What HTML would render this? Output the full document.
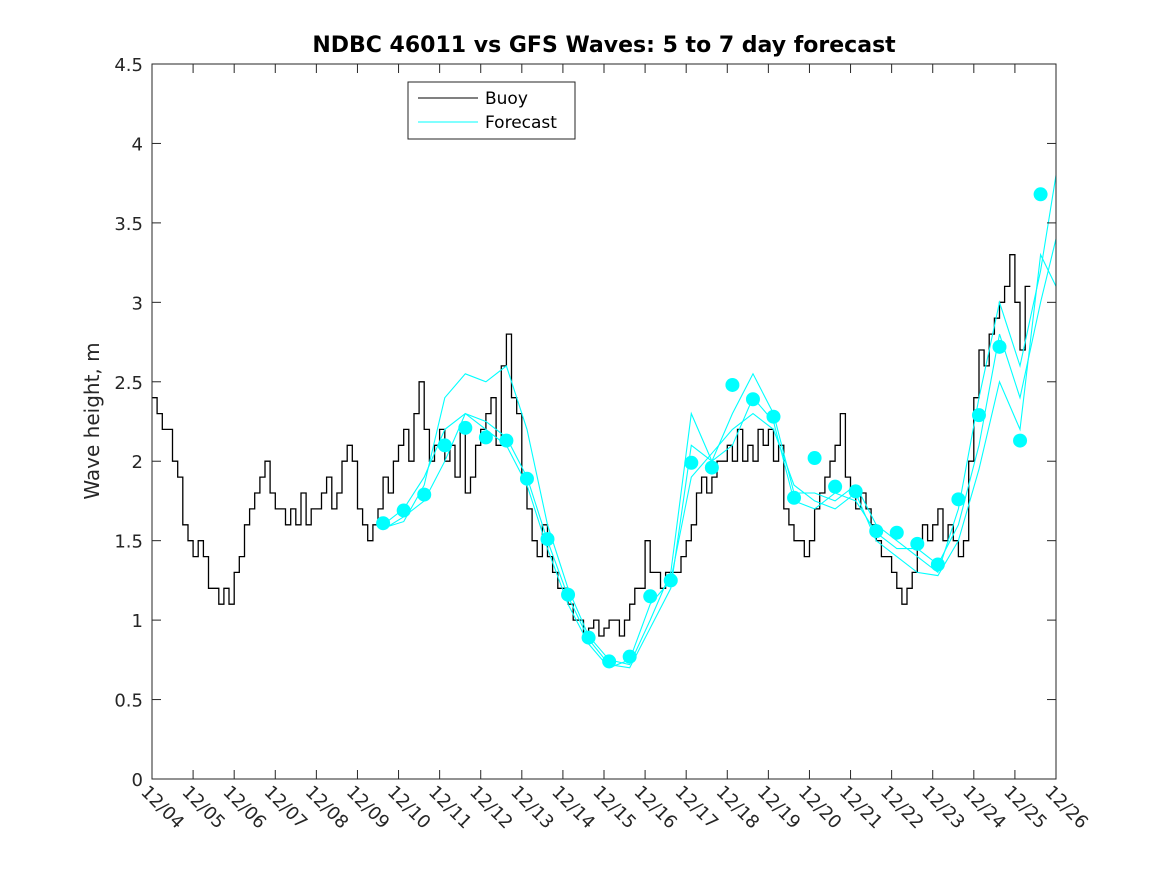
<!DOCTYPE html>
<html><head><meta charset="utf-8"><style>
html,body{margin:0;padding:0;background:#fff;}
svg{display:block;font-family:"DejaVu Sans","Liberation Sans",sans-serif;}
</style></head><body>
<svg id="chart" width="1167" height="875" viewBox="0 0 1167 875" xmlns="http://www.w3.org/2000/svg">
<rect x="0" y="0" width="1167" height="875" fill="#fff"/>
<text x="604" y="52" text-anchor="middle" font-size="22" font-weight="bold">NDBC 46011 vs GFS Waves: 5 to 7 day forecast</text>
<text transform="translate(99,421) rotate(-90)" text-anchor="middle" font-size="20" fill="#262626">Wave height, m</text>
<g id="plot"></g>
<rect x="152" y="64" width="904" height="715" fill="none" stroke="#262626" stroke-width="1"/>
<g id="axes"></g>
<g>
<rect x="408" y="82" width="167" height="57" fill="#fff" stroke="#262626" stroke-width="1"/>
<line x1="418" y1="98" x2="478" y2="98" stroke="#000" stroke-width="1"/>
<text x="485" y="104" font-size="17">Buoy</text>
<line x1="418" y1="122" x2="478" y2="122" stroke="#00ffff" stroke-width="1"/>
<text x="485" y="128" font-size="17">Forecast</text>
</g>
</svg>
<script>
const buoyStartDay = 0;
const buoyStepDays = 0.125;
const buoy = [
2.4,2.3,2.2,2.2,2.0,1.9,1.6,1.5,
1.4,1.5,1.4,1.2,1.2,1.1,1.2,1.1,
1.3,1.4,1.6,1.7,1.8,1.9,2.0,1.8,
1.7,1.7,1.6,1.7,1.6,1.8,1.6,1.7,
1.7,1.8,1.9,1.7,1.8,2.0,2.1,2.0,
1.7,1.6,1.5,1.6,1.7,1.9,1.8,2.0,
2.1,2.2,2.0,2.3,2.5,2.2,2.0,2.1,
2.2,2.0,2.1,1.9,2.2,1.8,1.9,2.1,
2.2,2.3,2.4,2.1,2.6,2.8,2.4,2.3,
1.9,1.7,1.5,1.4,1.6,1.4,1.3,1.2,
1.2,1.1,1.0,1.0,0.9,0.95,1.0,0.9,
0.95,1.0,1.0,0.9,1.0,1.1,1.2,1.2,
1.5,1.3,1.3,1.2,1.3,1.3,1.3,1.4,
1.5,1.6,1.8,1.9,1.8,1.9,2.0,2.0,
2.1,2.0,2.2,2.0,2.1,2.0,2.2,2.1,
2.2,2.0,2.1,1.7,1.6,1.5,1.5,1.4,
1.5,1.7,1.8,1.9,2.0,2.1,2.3,1.9,
1.8,1.7,1.8,1.7,1.6,1.5,1.4,1.4,
1.3,1.2,1.1,1.2,1.3,1.5,1.6,1.5,
1.6,1.7,1.5,1.6,1.5,1.4,1.5,2.0,
2.4,2.7,2.6,2.8,2.9,3.0,3.1,3.3,
3.0,2.7,3.1];
const fcStartDay = 5.625;
const fcStepDays = 0.5;
const fcDots = [1.61,1.69,1.79,2.1,2.21,2.15,2.13,1.89,1.51,1.16,0.89,0.74,0.77,1.15,1.25,1.99,1.96,2.48,2.39,2.28,1.77,2.02,1.84,1.81,1.56,1.55,1.48,1.35,1.76,2.29,2.72,2.13,3.68];
const fc1 = [1.58,1.62,1.85,2.4,2.55,2.5,2.6,2.2,1.6,1.2,0.9,0.75,0.72,1.0,1.3,2.3,2.0,2.3,2.55,2.3,1.8,1.8,1.75,1.85,1.6,1.5,1.4,1.3,1.7,2.4,3.0,2.6,3.2,3.8];
const fc2 = [1.57,1.65,1.75,2.0,2.3,2.25,2.15,1.9,1.5,1.15,0.88,0.72,0.7,0.95,1.2,2.1,2.0,2.1,2.4,2.25,1.75,1.7,1.8,1.75,1.55,1.45,1.45,1.35,1.6,2.1,2.8,2.4,3.0,3.4];
const fc3 = [1.6,1.7,1.9,2.2,2.3,2.2,2.1,1.85,1.45,1.1,0.85,0.7,0.75,1.1,1.25,1.9,2.05,2.2,2.3,2.2,1.85,1.75,1.7,1.8,1.5,1.4,1.3,1.28,1.5,1.95,2.5,2.2,3.3,3.1];
const yTicks = [0,0.5,1,1.5,2,2.5,3,3.5,4,4.5];
const yTickLabels = ["0","0.5","1","1.5","2","2.5","3","3.5","4","4.5"];
const xTickLabels = ["12/04","12/05","12/06","12/07","12/08","12/09","12/10","12/11","12/12","12/13","12/14","12/15","12/16","12/17","12/18","12/19","12/20","12/21","12/22","12/23","12/24","12/25","12/26"];

const X0=152,X1=1056,Y0=779,Y1=64,DAYS=22,YMAX=4.5;
function xs(d){return X0+(X1-X0)*d/DAYS;}
function ys(v){return Y0-(Y0-Y1)*v/YMAX;}
const NS="http://www.w3.org/2000/svg";
const plot=document.getElementById('plot');
const axes=document.getElementById('axes');
function mk(tag,attrs,parent){const e=document.createElementNS(NS,tag);for(const k in attrs)e.setAttribute(k,attrs[k]);parent.appendChild(e);return e;}

let d='';
buoy.forEach((v,i)=>{const x0=xs(buoyStartDay+i*buoyStepDays),x1=xs(buoyStartDay+(i+1)*buoyStepDays),y=ys(v);
 d+=(i===0?'M':'L')+x0.toFixed(1)+','+y.toFixed(1)+'L'+x1.toFixed(1)+','+y.toFixed(1);});
const bl=mk('path',{d:d,fill:'none',stroke:'#000','stroke-width':1.3},plot);



[fc1,fc2,fc3].forEach((arr,j)=>{
 const pts=arr.map((v,i)=>xs(Math.min(DAYS,fcStartDay+i*fcStepDays)).toFixed(1)+','+ys(v).toFixed(1)).join(' ');
 const pl=mk('polyline',{points:pts,fill:'none',stroke:'#00ffff','stroke-width':1.1},plot);
 
 
});
fcDots.forEach((v,i)=>{
 const c=mk('circle',{cx:xs(fcStartDay+i*fcStepDays),cy:ys(v),r:7,fill:'#00ffff'},plot);
 
 
});

yTicks.forEach((t,i)=>{
 const y=ys(t);
 const l=mk('line',{x1:X0,y1:y,x2:X0+9,y2:y,stroke:'#262626'},axes);
 
 
 const r=mk('line',{x1:X1,y1:y,x2:X1-9,y2:y,stroke:'#262626'},axes);
 
 
 const tx=mk('text',{x:X0-9,y:y+7,'text-anchor':'end','font-size':18,fill:'#262626'},axes);
 tx.textContent=yTickLabels[i];
 
 
});
xTickLabels.forEach((lab,i)=>{
 const x=xs(i);
 const l=mk('line',{x1:x,y1:Y0,x2:x,y2:Y0-9,stroke:'#262626'},axes);
 
 
 const t=mk('line',{x1:x,y1:Y1,x2:x,y2:Y1+9,stroke:'#262626'},axes);
 
 
 const tx=mk('text',{transform:'translate('+(x-12)+','+(Y0+14)+') rotate(45)','font-size':18,fill:'#262626'},axes);
 tx.textContent=lab;
 
 
});
</script>
</body></html>
